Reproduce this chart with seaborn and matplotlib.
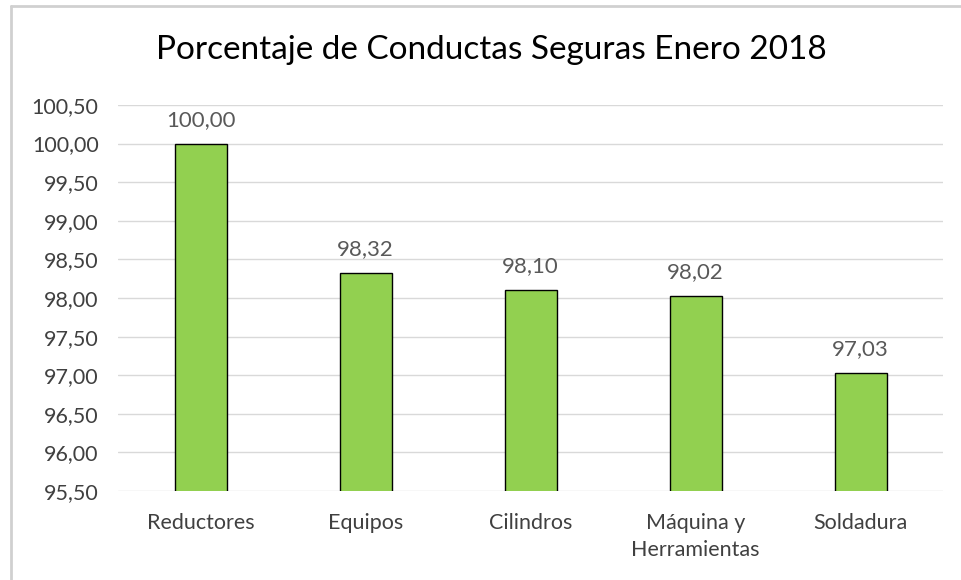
import matplotlib
matplotlib.use('Agg')
import matplotlib.pyplot as plt
import seaborn as sns
import pandas as pd
from matplotlib.lines import Line2D

categorias = ['Reductores', 'Equipos', 'Cilindros', 'Máquina y\nHerramientas', 'Soldadura']
porcentajes = [100.00, 98.32, 98.10, 98.02, 97.03]
ticks_y = [95.5, 96.0, 96.5, 97.0, 97.5, 98.0, 98.5, 99.0, 99.5, 100.0, 100.5]

df = pd.DataFrame({'categoria': categorias, 'porcentaje': porcentajes})

sns.set_style('white')
plt.rcParams['font.family'] = ['Lato', 'DejaVu Sans']

fig = plt.figure(figsize=(9.61, 5.80), dpi=100)
ax = fig.add_axes([0.1228, 0.1534, 0.8585, 0.6656])

sns.barplot(data=df, x='categoria', y='porcentaje', color='#92D050',
            edgecolor='black', linewidth=1, width=0.315, saturation=1, ax=ax)

ax.set_ylim(95.5, 100.5)
ax.set_yticks(ticks_y)
ax.set_yticklabels([f'{v:.2f}'.replace('.', ',') for v in ticks_y])
ax.set_xlim(-0.5, len(categorias) - 0.5)
ax.yaxis.grid(True, color='#d9d9d9', linewidth=1)
ax.set_axisbelow(True)
for s in ax.spines.values():
    s.set_visible(False)
ax.tick_params(axis='both', length=0, labelsize=15.5, colors='#404040')
ax.tick_params(axis='y', pad=14)
ax.tick_params(axis='x', pad=16)
for lbl in ax.get_xticklabels():
    lbl.set_linespacing(1.45)
ax.set_xlabel('')
ax.set_ylabel('')

for i, v in enumerate(porcentajes):
    ax.annotate(f'{v:.2f}'.replace('.', ','), (i, v), xytext=(0, 10),
                textcoords='offset points', ha='center', va='bottom',
                fontsize=16, color='#595959')

fig.text(0.511, 0.913, 'Porcentaje de Conductas Seguras Enero 2018',
         ha='center', va='center', fontsize=24, color='#000000')

# marco gris de la imagen
fig.add_artist(Line2D([0.011, 0.011], [0, 0.99], transform=fig.transFigure, color='#d0d0d0', lw=2))
fig.add_artist(Line2D([0.011, 1], [0.99, 0.99], transform=fig.transFigure, color='#d0d0d0', lw=2))

fig.savefig('out.png', dpi=100, facecolor='white')
